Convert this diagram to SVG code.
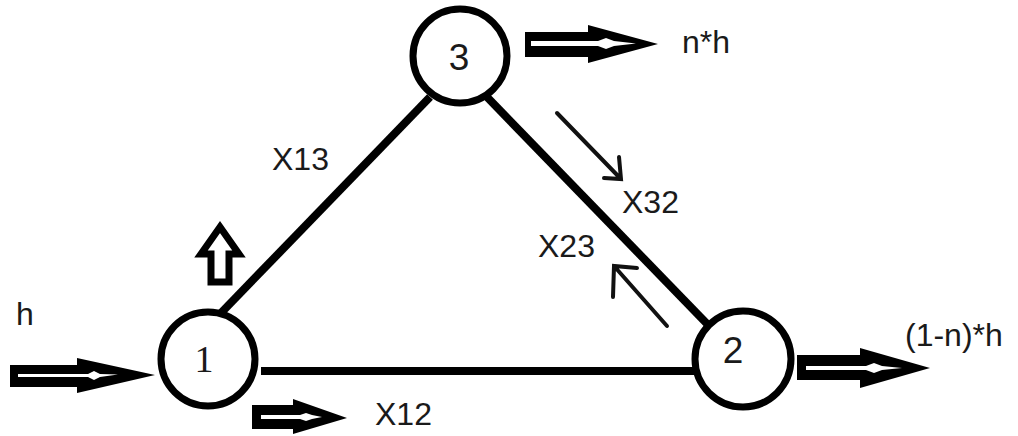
<svg xmlns="http://www.w3.org/2000/svg" width="1018" height="436" viewBox="0 0 1018 436">
<style>
.node{fill:#fff;stroke:#000;stroke-width:7}
.edge{stroke:#000;stroke-width:8;fill:none;stroke-linecap:butt}
.thin{stroke:#111;stroke-width:4;fill:none;stroke-linecap:round;stroke-linejoin:miter}
.blk{fill:#000}
.wht{fill:#fff}
.hol{fill:#fff;stroke:#000;stroke-width:7;stroke-linejoin:miter}
.lbl{font-family:"Liberation Sans",Arial,sans-serif;font-size:32px;fill:#1a1a1a}
.num{font-family:"Liberation Sans",Arial,sans-serif;font-size:37px;fill:#1a1a1a}
.numS{font-family:"Liberation Serif","Times New Roman",serif;font-size:38px;fill:#1a1a1a}
</style>
<rect width="1018" height="436" fill="#fff"/>
<g id="connectors">
<line class="edge" x1="261" y1="371" x2="696" y2="371"/>
<line class="edge" x1="220" y1="314" x2="430" y2="97"/>
<line class="edge" x1="487" y1="97" x2="714" y2="331"/>
<path class="thin" d="M557,113 L620,178 M619,157 L621,179 L604,178"/>
<path class="thin" d="M667,326 L614,266 M613,297 L614,266 L637,268"/>
<g id="arrow-in">
<path class="blk" d="M10,365 L77,365 L77,358 L155,375 L77,393 L77,387 L10,387 Z"/>
<path class="wht" d="M18,374 L88,374 L94,371 L100,374 L118,374.5 L100,377 L94,380 L88,377 L18,377 Z"/>
</g>
<g id="arrow-n3">
<path class="blk" d="M525,32 L588,32 L588,25 L658,44 L588,63 L588,57 L525,57 Z"/>
<path class="wht" d="M531,41 L598,41 L606,38 L614,41 L636,43.5 L614,46 L606,49 L598,46 L531,46 Z"/>
</g>
<g id="arrow-n2">
<path class="blk" d="M797,355 L860,355 L860,348 L930,368 L860,388 L860,380 L797,380 Z"/>
<path class="wht" d="M806,366 L866,366 L874,363 L882,366 L902,368 L882,370 L874,373 L866,370 L806,370 Z"/>
</g>
<g id="arrow-x12">
<path class="blk" d="M252,405 L293,405 L293,399 L347,418 L293,434 L293,429 L252,429 Z"/>
<path class="wht" d="M261,415 L300,415 L306,413 L312,415 L322,417 L312,419 L306,421 L300,419 L261,419 Z"/>
</g>
<g id="arrow-x13">
<path class="hol" d="M220,227 L239,254 L229,254 L229,282 L211,282 L211,254 L201,254 Z"/>
</g>
</g>
<g id="node1">
<circle class="node" cx="208" cy="359" r="47"/>
<text class="numS" x="204" y="372" text-anchor="middle">1</text>
</g>
<g id="node2">
<circle class="node" cx="743" cy="359" r="48"/>
<text class="num" x="733" y="363" text-anchor="middle">2</text>
</g>
<g id="node3">
<circle class="node" cx="460" cy="56" r="47"/>
<text class="num" x="459" y="70" text-anchor="middle">3</text>
</g>
<g id="labels">
<text class="lbl" x="16" y="325" font-size="35">h</text>
<text class="lbl" x="682" y="53">n*h</text>
<text class="lbl" x="272" y="170">X13</text>
<text class="lbl" x="622" y="213" font-size="30">X32</text>
<text class="lbl" x="538" y="257">X23</text>
<text class="lbl" x="375" y="425">X12</text>
<text class="lbl" x="905" y="346">(1-n)*h</text>
</g>
</svg>
